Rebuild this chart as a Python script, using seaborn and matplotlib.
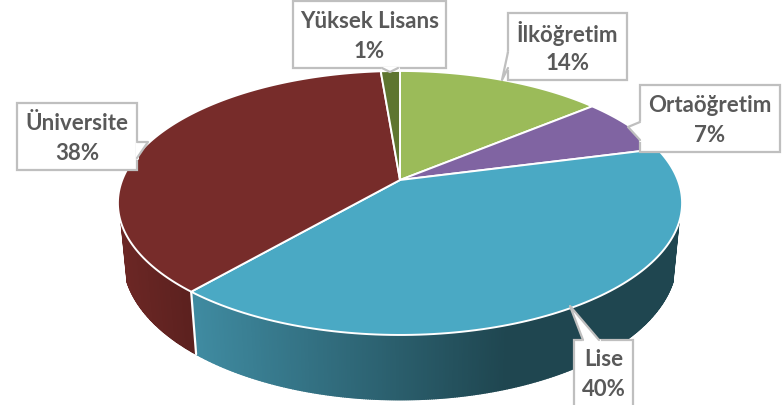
"""Draws the education level pie chart as a tilted 3D style disc and saves it as out.png."""

import numpy as np
import matplotlib.pyplot as plt
from matplotlib.patches import Polygon
import seaborn as sns

categories=["İlköğretim","Ortaöğretim","Lise","Üniversite","Yüksek Lisans"]
values=[14,7,40.5,37.5,1.3]
percent_labels=["14%","7%","40%","38%","1%"]
top_colors=["#9BBB59","#8064A2","#4AA9C4","#772C2A","#5E7530"]

# Layout of the disc in pixels: top face and the smaller bottom edge.
CX=400
TOP=(277.8,128,0.174,180)
BOTTOM=(271,135,0.2,231)
BOTTOM_PULL=0.97                      # Side lines lean towards the front of the disc.
WALL_START=np.radians(108.5)

# Label boxes: left, top, right, bottom, then the outline of the pointer.
label_boxes={
    "İlköğretim":((508,13,627,80),[(508,52),(502,80),(508,68)]),
    "Ortaöğretim":((640,85,780,152),[(640,122),(628,127),(640,140)]),
    "Lise":((574,340,633,412),[(583,340),(570,306),(599,340)]),
    "Üniversite":((17,103,137,170),[(137,142),(148,142),(137,158)]),
    "Yüksek Lisans":((293,1,446,68),[(382,68),(390,72),(398,68)]),
}

def project(theta,ring=TOP):          # Maps an angle on the disc to a pixel position.
    a,c,p,cy=ring
    w=1+p*np.cos(theta)
    return CX+a*np.sin(theta)/w,cy-c*np.cos(theta)/w

def project_bottom(theta):            # Same position on the bottom edge of the side.
    return project(np.pi+(theta-np.pi)*BOTTOM_PULL,BOTTOM)

def wall_color(x,theta_mid,edges,lise_shades,uni_shades):   # Picks the side colour at a position.
    if edges[2]<=theta_mid<edges[3]:
        i=int(np.clip((x-196)/(505-196),0,1)*(len(lise_shades)-1))
        return lise_shades[i]
    if edges[3]<=theta_mid<edges[4]:
        i=int(np.clip((x-118)/(196-118),0,1)*(len(uni_shades)-1))
        return uni_shades[i]
    return lise_shades[-1]

def draw_walls(ax,edges):             # Draws the side of the disc from thin strips.
    lise_shades=sns.blend_palette(["#3F8AA0","#1F4650"],256)
    uni_shades=sns.blend_palette(["#6C2725","#5A201E"],64)
    steps=np.linspace(WALL_START,2*np.pi-WALL_START,420)
    for t0,t1 in zip(steps[:-1],steps[1:]):
        x0,y0=project(t0)
        x1,y1=project(t1)
        x2,y2=project_bottom(t1)
        x3,y3=project_bottom(t0)
        c=wall_color((x0+x1)/2,(t0+t1)/2,edges,lise_shades,uni_shades)
        ax.add_patch(Polygon([(x0,y0),(x1,y1),(x2,y2),(x3,y3)],facecolor=c,edgecolor=c,linewidth=1.0,zorder=1))
    # White seam between the two visible sides.
    ax.plot(*zip(project(edges[3]),project_bottom(edges[3])),color="white",lw=1.6,zorder=2)

def draw_top(ax,edges):               # Draws the slices on top of the disc.
    for i,color in enumerate(top_colors):
        t=np.linspace(edges[i],edges[i+1],120)
        xs,ys=project(t)
        pts=[(CX,TOP[3])]+list(zip(xs,ys))
        ax.add_patch(Polygon(pts,closed=True,facecolor=color,edgecolor="white",linewidth=1.4,joinstyle="round",zorder=3))

def draw_label(ax,name,pct):          # Draws one callout box with its two text lines.
    (x0,y0,x1,y1),pointer=label_boxes[name]
    ax.add_patch(Polygon([(x0,y0),(x1,y0),(x1,y1),(x0,y1)],facecolor="white",edgecolor="#BFBFBF",linewidth=1.6,zorder=5))
    ax.add_patch(Polygon(pointer,closed=True,facecolor="white",edgecolor="none",zorder=6))
    ax.plot(*zip(pointer[0],pointer[2]),color="white",lw=2.2,zorder=6)   # Opens the box edge where the pointer joins.
    ax.plot(*zip(*pointer),color="#BFBFBF",lw=1.6,zorder=7)
    xm=(x0+x1)/2
    ax.text(xm,y0+20,name,ha="center",va="center",fontsize=16,fontweight="bold",color="#595959",family="Lato",zorder=8)
    ax.text(xm,y0+50,pct,ha="center",va="center",fontsize=16,fontweight="bold",color="#595959",family="Lato",zorder=8)

def main():
    sns.set_theme(style="white")
    fig=plt.figure(figsize=(7.82,4.05),dpi=100)
    ax=fig.add_axes([0,0,1,1])
    ax.set_xlim(0,782)
    ax.set_ylim(405,0)
    ax.axis("off")
    fractions=np.array(values)/sum(values)
    edges=np.concatenate([[0],np.cumsum(fractions)])*2*np.pi
    draw_walls(ax,edges)
    draw_top(ax,edges)
    for name,pct in zip(categories,percent_labels):
        draw_label(ax,name,pct)
    fig.savefig("out.png",dpi=100)
    plt.close(fig)

if __name__=="__main__":
    main()
